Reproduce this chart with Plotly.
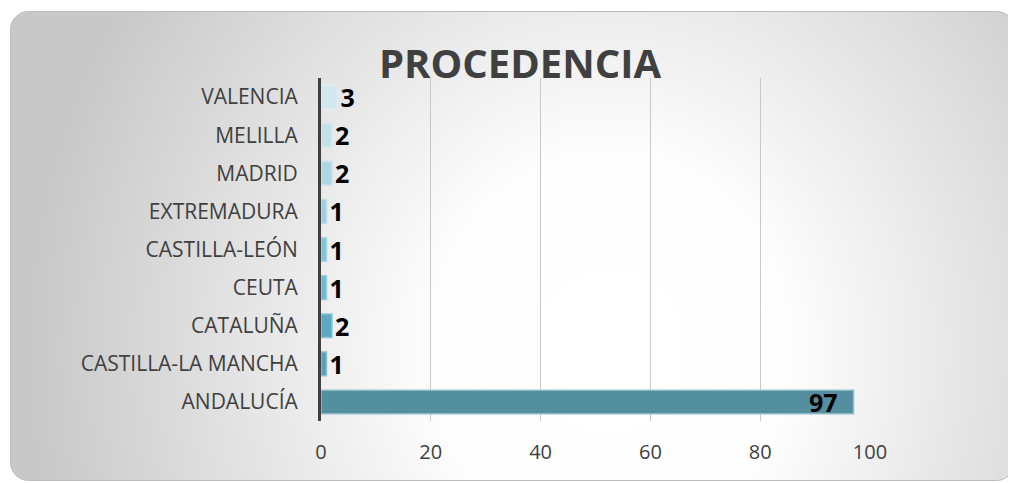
import plotly.graph_objects as go
import urllib.parse

categories = ["ANDALUCÍA", "CASTILLA-LA MANCHA", "CATALUÑA", "CEUTA",
              "CASTILLA-LEÓN", "EXTREMADURA", "MADRID", "MELILLA", "VALENCIA"]
values = [97, 1, 2, 1, 1, 1, 2, 2, 3]
bar_colors = ["#548F9F", "#58A0B5", "#5BAAC1", "#6FB8CE", "#7FC3D8",
              "#9ECFE0", "#B0D6E3", "#C5E0EA", "#D3E7EE"]
line_colors = ["#8FBBC8", "#8CC0D0", "#8DC6D6", "#9ACDDC", "#A8D5E3",
               "#BDDDE8", "#C9E2EB", "#D6E9F0", "#E0EEF3"]
x_ticks = [0, 20, 40, 60, 80, 100]

# page body has an 8px margin, so the figure is drawn 8px smaller
W, H = 1008, 475
L, R, T, B = 313, 862, 70, 413
CX, CY, CW, CH = 2, 3, 1005, 470  # card rectangle

svg = f'''<svg xmlns="http://www.w3.org/2000/svg" width="{CW}" height="{CH}" viewBox="0 0 {CW} {CH}">
<defs><radialGradient id="g" gradientUnits="userSpaceOnUse" cx="0" cy="0" r="1"
gradientTransform="translate(600,340) scale(580,640)">
<stop offset="0" stop-color="#ffffff"/><stop offset="0.3" stop-color="#fefefe"/>
<stop offset="1" stop-color="#c8c8c8"/></radialGradient></defs>
<rect x="0.5" y="0.5" width="{CW-1}" height="{CH-1}" rx="18" ry="18" fill="url(#g)" stroke="#bdbdbd" stroke-width="1"/>
</svg>'''
src = "data:image/svg+xml;charset=utf-8," + urllib.parse.quote(svg)

labels = [str(v) for v in values]
labels[0] = labels[0] + "\u00a0\u00a0"

pw, ph = R - L, B - T
fig = go.Figure()
fig.add_trace(go.Bar(
    y=categories, x=values, orientation="h",
    marker=dict(color=bar_colors, line=dict(color=line_colors, width=1.5)),
    text=labels, textposition=["inside"] + ["outside"] * 8,
    insidetextanchor="end", textangle=0,
    textfont=dict(family="Open Sans", size=25, color="#000000", weight="bold"),
    constraintext="none", cliponaxis=False, hoverinfo="skip",
))

fig.add_layout_image(dict(
    source=src, xref="paper", yref="paper",
    x=(CX - L) / pw, y=(B - CY) / ph,
    sizex=CW / pw, sizey=CH / ph,
    xanchor="left", yanchor="top", sizing="stretch", layer="below",
))

fig.update_layout(
    width=W, height=H,
    margin=dict(l=L, r=W - R, t=T, b=H - B, pad=0, autoexpand=False),
    paper_bgcolor="#ffffff", plot_bgcolor="rgba(0,0,0,0)",
    bargap=0.38, showlegend=False,
    font=dict(family="Open Sans", color="#404040"),
    title=dict(text="<b>PROCEDENCIA</b>", x=512 / W, xanchor="center",
               y=1 - 56 / H, yanchor="middle", yref="container",
               font=dict(family="Open Sans", size=40, color="#404040")),
    xaxis=dict(range=[0, 100], tickvals=x_ticks, showgrid=True,
               gridcolor="#c8c8c8", gridwidth=1, zeroline=False,
               tickfont=dict(size=20, color="#404040"), ticks="",
               ticklabelstandoff=17, fixedrange=True, automargin=False),
    yaxis=dict(categoryorder="array", categoryarray=categories,
               showline=True, linecolor="#404040", linewidth=3,
               tickfont=dict(size=21, color="#404040"), ticks="",
               ticklabelstandoff=16, showgrid=False, fixedrange=True,
               automargin=False),
)

fig.write_html("out.html")
